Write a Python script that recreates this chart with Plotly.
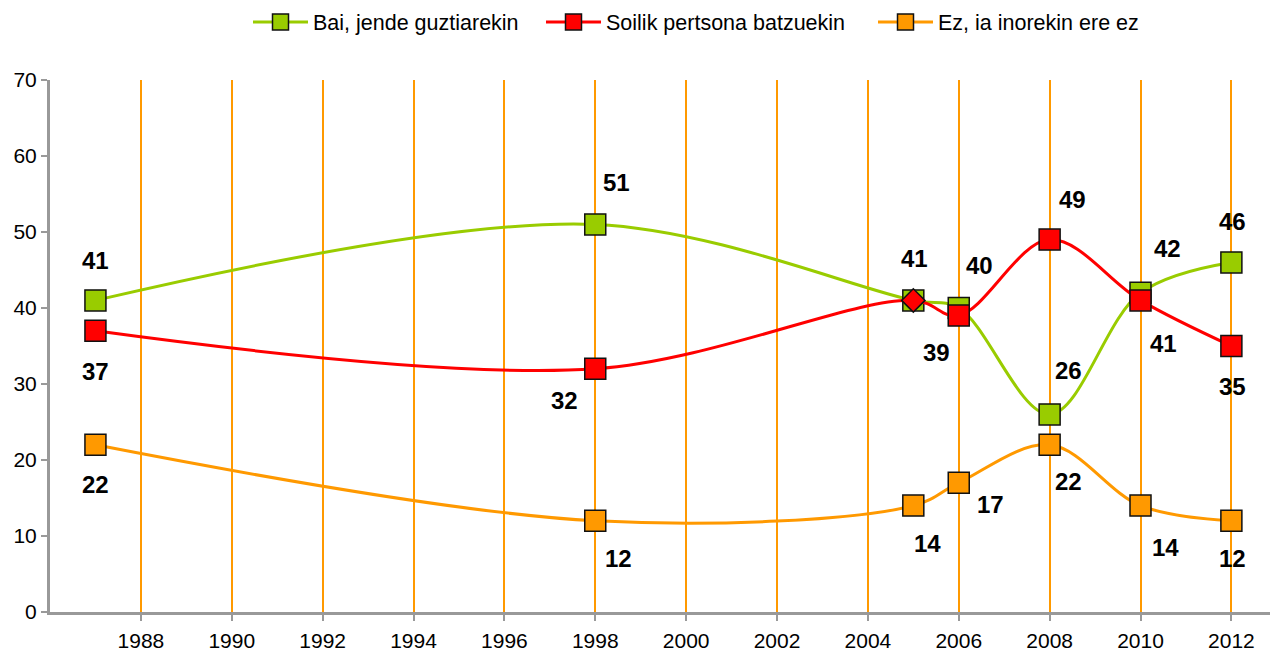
import plotly.graph_objects as go

years = [1987, 1998, 2005, 2006, 2008, 2010, 2012]
bai = [41, 51, 41, 40, 26, 42, 46]
soilik = [37, 32, 41, 39, 49, 41, 35]
ez = [22, 12, 14, 17, 22, 14, 12]
series_names = ["Bai, jende guztiarekin", "Soilik pertsona batzuekin", "Ez, ia inorekin ere ez"]
series_colors = ["#99CC00", "#FF0000", "#FF9900"]
x_ticks = list(range(1988, 2013, 2))
y_ticks = list(range(0, 71, 10))

# label pixel offsets (dx, dy) for each point; None = no label
bai_off = [(0, 40), (21, 42), (1, 42), (21, 43), (19, 44), (27, 44), (1, 41)]
soilik_off = [(0, -41), (-31, -32), None, (-22, -37), (23, 40), (23, -43), (1, -40)]
ez_off = [(0, -40), (23, -38), (14, -38), (32, -22), (19, -37), (25, -42), (1, -38)]
soilik_symbols = ["square", "square", "diamond", "square", "square", "square", "square"]
soilik_sizes = [21, 21, 18, 21, 21, 21, 21]

FONT = "Liberation Sans, Arial"
fig = go.Figure()

def add_series(vals, name, color, legend_id, symbols="square", sizes=21):
    fig.add_trace(go.Scatter(
        x=years, y=vals, name=name, mode="lines+markers",
        line=dict(color=color, width=3, shape="spline", smoothing=1),
        marker=dict(symbol=symbols, size=sizes, color=color, opacity=1,
                    line=dict(color="#111111", width=1.5)),
        legend=legend_id, cliponaxis=False,
    ))

add_series(bai, series_names[0], series_colors[0], "legend")
add_series(ez, series_names[2], series_colors[2], "legend3")
add_series(soilik, series_names[1], series_colors[1], "legend2", soilik_symbols, soilik_sizes)

for vals, offs in [(bai, bai_off), (soilik, soilik_off), (ez, ez_off)]:
    for xv, yv, off in zip(years, vals, offs):
        if off is None:
            continue
        fig.add_annotation(x=xv, y=yv, text=str(yv), showarrow=False,
                           xshift=off[0], yshift=off[1],
                           font=dict(family=FONT, size=24, color="black", weight="bold"))

def legend_box(x_px):
    return dict(orientation="h", x=x_px / 1273, xanchor="left", xref="container",
                y=1 - 22 / 655, yanchor="middle", yref="container",
                font=dict(size=21.5), itemwidth=55, bgcolor="rgba(0,0,0,0)")

fig.update_layout(
    width=1273, height=655,
    margin=dict(l=50, r=3, t=80, b=43),
    paper_bgcolor="white", plot_bgcolor="white",
    font=dict(family=FONT, size=21, color="black"),
    showlegend=True,
    legend=legend_box(248),
    legend2=legend_box(541),
    legend3=legend_box(873),
    xaxis=dict(range=[1986, 2012.85], tickvals=x_ticks, ticktext=[str(t) for t in x_ticks],
               showgrid=True, gridcolor="#FF9900", gridwidth=1.5, zeroline=False,
               showline=True, linecolor="#999999", linewidth=3,
               ticks="outside", tickcolor="#999999", tickwidth=2, ticklen=6,
               ticklabelstandoff=2, automargin=False, tickfont=dict(size=21)),
    yaxis=dict(range=[0, 70], tickvals=y_ticks, showgrid=False, zeroline=False,
               showline=True, linecolor="#999999", linewidth=3,
               ticks="outside", tickcolor="#999999", tickwidth=2, ticklen=6,
               automargin=False, tickfont=dict(size=21)),
)

fig.write_html("out.html", config={"displayModeBar": False},
               post_script="document.body.style.margin='0';document.body.style.padding='0';document.body.style.overflow='hidden';")
